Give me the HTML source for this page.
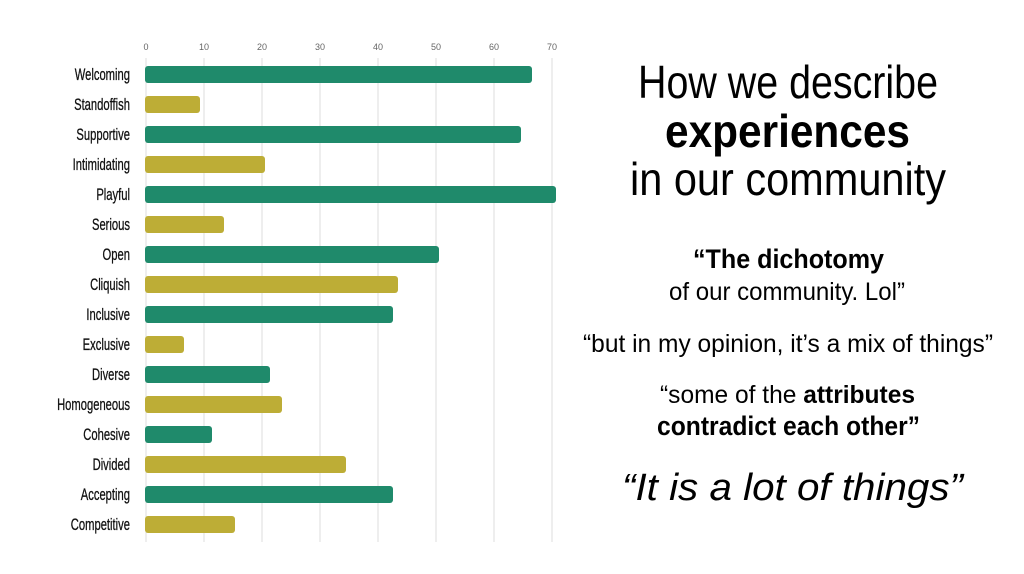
<!DOCTYPE html>
<html><head><style>
html,body{margin:0;padding:0;background:#fff;}
svg{display:block;}
</style></head><body>
<svg width="1024" height="574" xmlns="http://www.w3.org/2000/svg">
<rect width="1024" height="574" fill="#fff"/>
<g stroke="#dcdcdc" stroke-width="1">
<line x1="146" y1="58" x2="146" y2="542"/><line x1="204" y1="58" x2="204" y2="542"/>
<line x1="262" y1="58" x2="262" y2="542"/><line x1="320" y1="58" x2="320" y2="542"/>
<line x1="378" y1="58" x2="378" y2="542"/><line x1="436" y1="58" x2="436" y2="542"/>
<line x1="494" y1="58" x2="494" y2="542"/><line x1="552" y1="58" x2="552" y2="542"/>
</g>
<g font-family="Liberation Sans, sans-serif" font-size="9" fill="#666" text-anchor="middle">
<text x="146" y="50">0</text><text x="204" y="50">10</text><text x="262" y="50">20</text><text x="320" y="50">30</text>
<text x="378" y="50">40</text><text x="436" y="50">50</text><text x="494" y="50">60</text><text x="552" y="50">70</text>
</g>
<g>
<rect x="145" y="66" width="387" height="17" rx="3" fill="#1f8a6b"/>
<rect x="145" y="96" width="55" height="17" rx="3" fill="#bdad36"/>
<rect x="145" y="126" width="376" height="17" rx="3" fill="#1f8a6b"/>
<rect x="145" y="156" width="120" height="17" rx="3" fill="#bdad36"/>
<rect x="145" y="186" width="411" height="17" rx="3" fill="#1f8a6b"/>
<rect x="145" y="216" width="79" height="17" rx="3" fill="#bdad36"/>
<rect x="145" y="246" width="294" height="17" rx="3" fill="#1f8a6b"/>
<rect x="145" y="276" width="253" height="17" rx="3" fill="#bdad36"/>
<rect x="145" y="306" width="248" height="17" rx="3" fill="#1f8a6b"/>
<rect x="145" y="336" width="39" height="17" rx="3" fill="#bdad36"/>
<rect x="145" y="366" width="125" height="17" rx="3" fill="#1f8a6b"/>
<rect x="145" y="396" width="137" height="17" rx="3" fill="#bdad36"/>
<rect x="145" y="426" width="67" height="17" rx="3" fill="#1f8a6b"/>
<rect x="145" y="456" width="201" height="17" rx="3" fill="#bdad36"/>
<rect x="145" y="486" width="248" height="17" rx="3" fill="#1f8a6b"/>
<rect x="145" y="516" width="90" height="17" rx="3" fill="#bdad36"/>
</g>
<g transform="translate(130,0) scale(0.66,1) translate(-130,0)" font-family="Liberation Sans, sans-serif" font-size="17" fill="#111" text-anchor="end" stroke="#111" stroke-width="0.3">
<text x="130" y="80">Welcoming</text><text x="130" y="110">Standoffish</text><text x="130" y="140">Supportive</text>
<text x="130" y="170">Intimidating</text><text x="130" y="200">Playful</text><text x="130" y="230">Serious</text>
<text x="130" y="260">Open</text><text x="130" y="290">Cliquish</text><text x="130" y="320">Inclusive</text>
<text x="130" y="350">Exclusive</text><text x="130" y="380">Diverse</text><text x="130" y="410">Homogeneous</text>
<text x="130" y="440">Cohesive</text><text x="130" y="470">Divided</text><text x="130" y="500">Accepting</text>
<text x="130" y="530">Competitive</text>
</g>
<g font-family="Liberation Sans Narrow, Liberation Sans, sans-serif" fill="#000">
<text x="638" y="98" font-size="46" textLength="300" lengthAdjust="spacingAndGlyphs">How we describe</text>
<text x="665" y="147" font-size="46" font-weight="bold" textLength="245" lengthAdjust="spacingAndGlyphs">experiences</text>
<text x="630" y="195" font-size="46" textLength="316" lengthAdjust="spacingAndGlyphs">in our community</text>
<text x="693" y="268" font-size="27" font-weight="bold" textLength="191" lengthAdjust="spacingAndGlyphs">“The dichotomy</text>
<text x="669" y="300" font-size="25" textLength="236" lengthAdjust="spacingAndGlyphs">of our community. Lol”</text>
<text x="583" y="352" font-size="25" textLength="410" lengthAdjust="spacingAndGlyphs">“but in my opinion, it’s a mix of things”</text>
<text x="660" y="403" font-size="25" textLength="255" lengthAdjust="spacingAndGlyphs">“some of the <tspan font-weight="bold">attributes</tspan></text>
<text x="657" y="435" font-size="27" font-weight="bold" textLength="263" lengthAdjust="spacingAndGlyphs">contradict each other”</text>
<text x="622" y="500" font-size="38" font-style="italic" textLength="341" lengthAdjust="spacingAndGlyphs">“It is a lot of things”</text>
</g>
</svg>
</body></html>
